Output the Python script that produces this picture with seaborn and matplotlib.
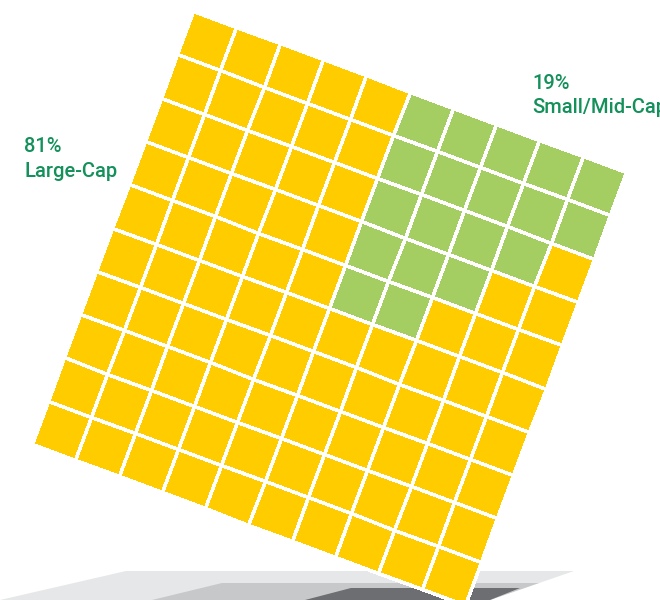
import numpy as np
import pandas as pd
import seaborn as sns
import matplotlib
matplotlib.use("Agg")
import matplotlib.pyplot as plt
from matplotlib.colors import ListedColormap
from matplotlib.transforms import Affine2D
from matplotlib.patches import Polygon

# ---- data ----
n_rows = 10
n_cols = 10
# number of Small/Mid-Cap (green) cells in each column, counted from the top
green_per_column = [0, 0, 0, 0, 0, 5, 5, 4, 3, 2]
labels = ["Large-Cap", "Small/Mid-Cap"]
shares = [81, 19]

grid = np.zeros((n_rows, n_cols), dtype=int)
for c, k in enumerate(green_per_column):
    grid[:k, c] = 1
df = pd.DataFrame(grid)

YELLOW = "#FFCC00"
GREEN = "#A4CE62"
TEXT = "#14905A"

sns.set_theme(style="white")
plt.rcParams["font.family"] = ["Roboto", "DejaVu Sans"]

fig = plt.figure(figsize=(6.6, 6.0), dpi=100)
ax = fig.add_axes([0, 0, 1, 1])

# floor shadow bands
shadows = [
    ([(0, 600), (126, 571), (574, 571), (490, 600)], "#E6E7E8"),
    ([(152, 600), (222, 583), (539, 583), (490, 600)], "#C7C8CA"),
    ([(305, 600), (351, 588), (520, 588), (490, 600)], "#6D6E71"),
]
for pts, col in shadows:
    ax.add_patch(Polygon(pts, closed=True, facecolor=col, edgecolor="none", zorder=0))

sns.heatmap(df, ax=ax, cmap=ListedColormap([YELLOW, GREEN]), vmin=0, vmax=1,
            cbar=False, linewidths=1.8, linecolor="white",
            xticklabels=False, yticklabels=False)
mesh = ax.collections[-1]
mesh.set_transform(Affine2D().scale(46.2).rotate_deg(20.4).translate(193, 11) + ax.transData)
mesh.set_zorder(2)

ax.set_xlim(0, 660)
ax.set_ylim(600, 0)
ax.set_aspect("auto")
ax.axis("off")

kw = dict(color=TEXT, fontsize=14.5, fontweight="medium", ha="left", va="baseline")
ax.text(24, 152, f"{shares[0]}%", **kw)
ax.text(24, 177, labels[0], **kw)
ax.text(532, 89, f"{shares[1]}%", **kw)
ax.text(532, 113, labels[1], **kw)

fig.savefig("out.png", dpi=100)
